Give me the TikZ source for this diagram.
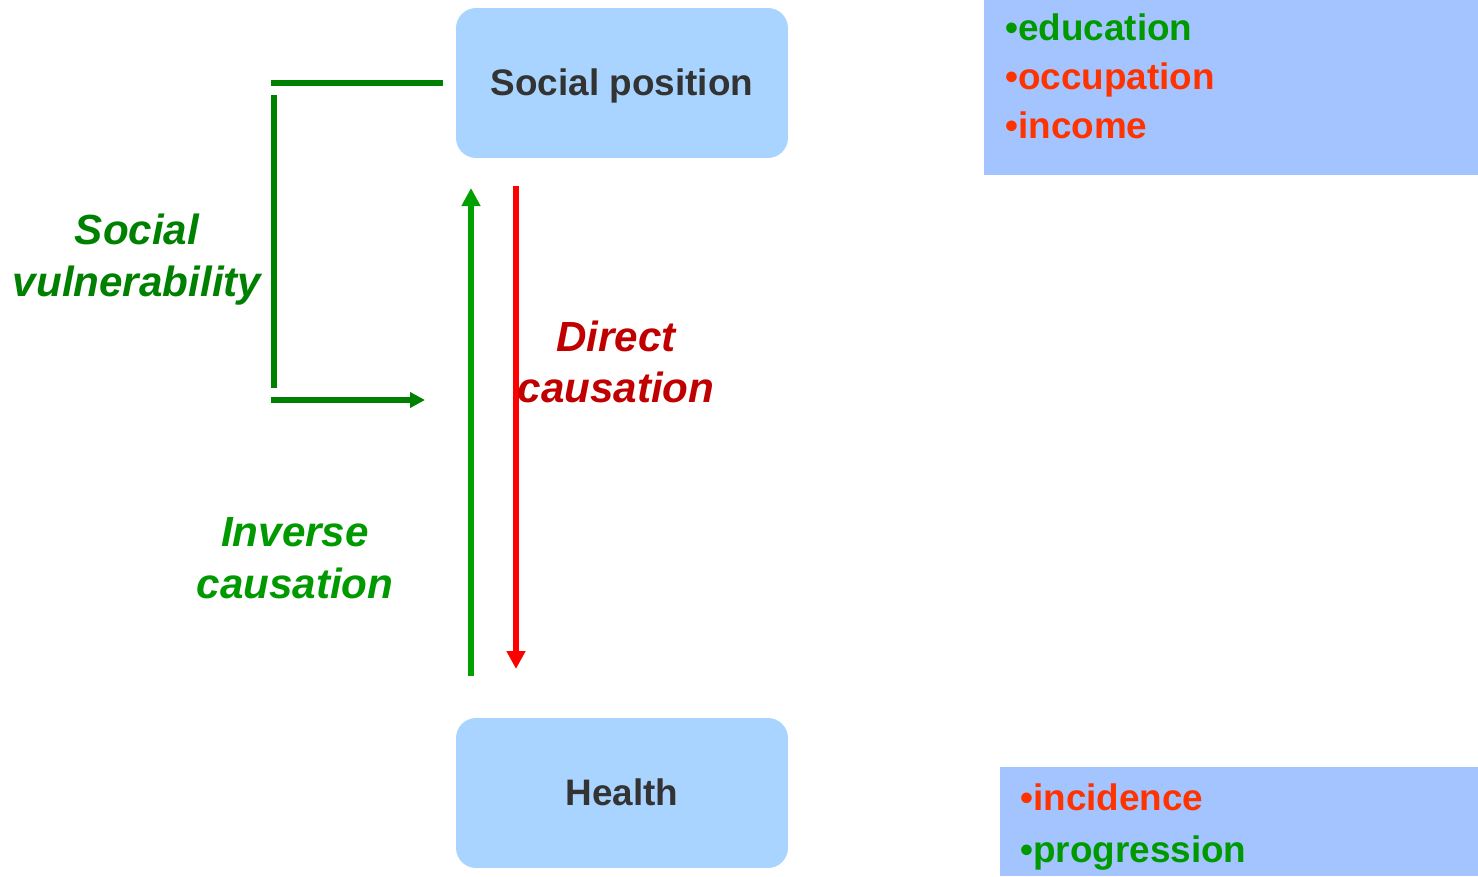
\documentclass[tikz,border=0pt]{standalone}
\usepackage{fontspec}
\setmainfont{Liberation Sans}
\usetikzlibrary{arrows.meta, positioning}
\definecolor{boxblue}{HTML}{A9D4FF}
\definecolor{listblue}{HTML}{A3C4FF}
\definecolor{bracketgreen}{HTML}{008000}
\definecolor{arrowgreen}{HTML}{00A000}
\definecolor{textgreen}{HTML}{009900}
\definecolor{causered}{HTML}{C00000}
\definecolor{listred}{HTML}{FF3300}
\definecolor{textgrey}{HTML}{333333}
\tikzset{
  >=Triangle,
  % Riquadri principali
  box/.style={rounded corners=0.4cm,fill=boxblue,minimum width=6.64cm,minimum height=3cm,
    text height=19pt,text depth=4.5pt,
    font=\fontsize{21}{25}\selectfont\bfseries,text=textgrey},
  list box/.style={fill=listblue},
  list text/.style={anchor=west,inner sep=0,align=left,font=\fontsize{21}{27.8}\selectfont\bfseries},
  % Etichette
  label text/.style={align=center,inner sep=0,font=\fontsize{24}{29.5}\selectfont\bfseries\itshape},
  % Connessioni
  connect/.style={line width=3pt,bracketgreen},
  connect arrow/.style={-{Triangle[length=0.3cm,width=0.3cm]},line width=3pt,bracketgreen},
  up arrow/.style={-{Triangle[length=0.36cm,width=0.36cm]},line width=3pt,arrowgreen},
  down arrow/.style={-{Triangle[length=0.36cm,width=0.36cm]},line width=3pt,red}
}
\begin{document}
\begin{tikzpicture}[x=0.02cm,y=-0.02cm]
    \useasboundingbox (0,0) rectangle (1478,876);
    % riquadri
    \node[box] (social) at (622,83) {Social position};
    \node[box] (health) at (622,793) {Health};
    % liste
    \fill[list box] (984,0) rectangle (1478,175);
    \node[list text] (posattr) at (1005,76) {\textcolor{textgreen}{•education}\\
      \textcolor{listred}{•occupation}\\ \textcolor{listred}{•income}};
    \fill[list box] (1000,767) rectangle (1478,876);
    \node[list text, font=\fontsize{21}{29.5}\selectfont\bfseries] (healthattr) at (1020,827)
      {\textcolor{listred}{•incidence}\\ \textcolor{textgreen}{•progression}};
    % frecce causali
    \coordinate (invlow) at (471,676);
    \coordinate (invtip) at (471,188);
    \coordinate (dirtop) at (516,186);
    \coordinate (dirtip) at (516,669);
    \draw[up arrow] (invlow) -- (invtip);
    \draw[down arrow] (dirtop) -- (dirtip);
    % parentesi vulnerabilita'
    \coordinate (brtopR) at (443,83);
    \coordinate (brtopL) at (271,83);
    \coordinate (brvtop) at (274,95);
    \coordinate (brvbot) at (274,388);
    \coordinate (brbotL) at (271,400);
    \coordinate (brtip) at (425,400);
    \draw[connect] (brtopR) -- (brtopL);
    \draw[connect] (brvtop) -- (brvbot);
    \draw[connect arrow] (brbotL) -- (brtip);
    % etichette
    \node[label text, text=bracketgreen] (vuln) at (137,260) {Social\\vulnerability};
    \node[label text, text=causered] (direct) at (616,362) {Direct\\causation};
    \node[label text, text=textgreen] (inverse) at (295,558) {Inverse\\causation};
  \end{tikzpicture}
\end{document}
